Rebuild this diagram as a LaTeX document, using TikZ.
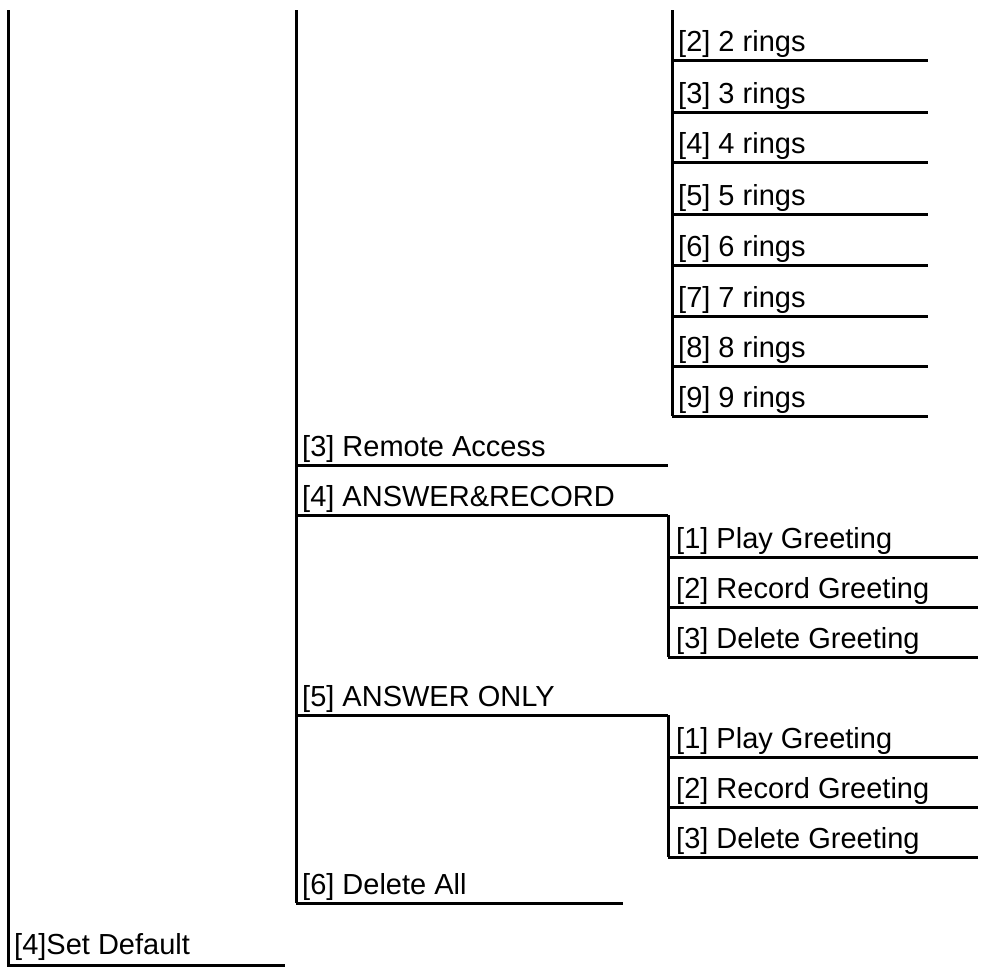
\documentclass[tikz,border=0pt]{standalone}
\usepackage{fontspec}
\setmainfont{Liberation Sans}
\begin{document}
\begin{tikzpicture}[x=1pt,y=-1pt,
  ln/.style={line width=3pt},
  lbl/.style={anchor=base west,inner sep=0pt,font=\fontsize{29}{30}\selectfont}]
\useasboundingbox (0,0) rectangle (984,967);
% level 1
\draw[ln] (8,10) -- (8,965) -- (285,965);
\node[lbl] (setdef) at (14,954) {[4]Set Default};
% level 2
\draw[ln] (296,10) -- (296,903);
\foreach \y/\xe/\t [count=\i] in {465/668/{[3] Remote Access},515/668/{[4] ANSWER\&RECORD},715/668/{[5] ANSWER ONLY},903/623/{[6] Delete All}}{
  \draw[ln] (296,\y) -- (\xe,\y);
  \node[lbl] (m\i) at (302,\y-9) {\t};
}
% rings
\draw[ln] (672,10) -- (672,416);
\foreach \y/\n in {60/2,112/3,162/4,214/5,265/6,316/7,366/8,416/9}{
  \draw[ln] (672,\y) -- (928,\y);
  \node[lbl] (r\n) at (678,\y-9) {[\n] \n\ rings};
}
% greetings
\foreach \top/\k in {515/a,715/b}{
  \draw[ln] (668,\top) -- (668,\top+142);
  \foreach \d/\t [count=\j] in {42/{[1] Play Greeting},92/{[2] Record Greeting},142/{[3] Delete Greeting}}{
    \draw[ln] (668,\top+\d) -- (978,\top+\d);
    \node[lbl] (g\k\j) at (676,\top+\d-9) {\t};
  }
}
\end{tikzpicture}
\end{document}
